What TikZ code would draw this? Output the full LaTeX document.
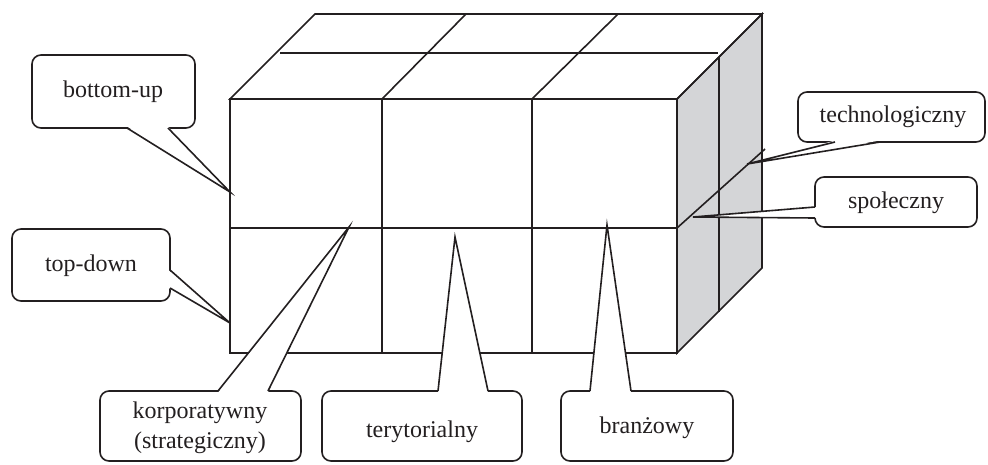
\documentclass[tikz,border=0pt]{standalone}
\usepackage{fontspec}
\setmainfont{Liberation Serif}
\usetikzlibrary{calc}
\definecolor{facegray}{RGB}{212,213,215}
\definecolor{ink}{RGB}{35,31,32}
\tikzset{
  edge/.style={draw=ink, line width=1.6pt, line join=miter},
  callout/.style={draw=ink, fill=white, line width=1.6pt, rounded corners=9pt},
  lbl/.style={text=ink, font=\fontsize{24}{30}\selectfont, align=center, inner sep=0pt}
}
% #1,#2 box corners; #3 base point 1; #4 tip; #5 base point 2; #6 inward shift
\newcommand\mycallout[6]{%
  \draw[callout] #1 rectangle #2;
  \fill[white] ($#3+#6$) -- #4 -- ($#5+#6$) -- cycle;
  \draw[edge] #3 -- #4 -- #5;
}
\begin{document}
\begin{tikzpicture}[x=1pt,y=-1pt]
\useasboundingbox (0,0) rectangle (988,464);
% cube
\filldraw[edge, fill=facegray] (677,99) -- (762,14) -- (762,268) -- (677,353) -- cycle;
\draw[edge] (230,99) -- (315,14) -- (762,14) -- (677,99) -- cycle;
\draw[edge] (382,99) -- (466,14);
\draw[edge] (532,99) -- (618,14);
\draw[edge] (280,53) -- (718,53);
\draw[edge] (719,57) -- (719,312);
\draw[edge] (677,228) -- (765,149);
\draw[edge] (230,99) rectangle (677,353);
\draw[edge] (230,228) -- (677,228);
\draw[edge] (382,99) -- (382,353);
\draw[edge] (532,99) -- (532,353);
% callouts
\mycallout{(32,55)}{(195,128)}{(127,128)}{(230,192)}{(168,128)}{(0,-1.5)}
\node[lbl] (bu) at (113,92) {bottom-up};
\mycallout{(12,229)}{(170,301)}{(170,270)}{(230,323)}{(170,288)}{(-1.5,0)}
\node[lbl] (td) at (91,266) {top-down};
\mycallout{(100,391)}{(301,461)}{(218,391)}{(349,227)}{(268,391)}{(0,1.5)}
\node[lbl] (kor) at (200,428) {korporatywny\\(strategiczny)};
\mycallout{(322,391)}{(522,461)}{(438,391)}{(455,237)}{(488,391)}{(0,1.5)}
\node[lbl] (ter) at (422,432) {terytorialny};
\mycallout{(561,391)}{(733,461)}{(590,391)}{(607,225)}{(631,391)}{(0,1.5)}
\node[lbl] (bra) at (647,428) {branżowy};
\mycallout{(798,92)}{(985,142)}{(835,142)}{(747,164)}{(880,142)}{(0,-1.5)}
\node[lbl] (tech) at (893,117) {technologiczny};
\mycallout{(815,177)}{(977,227)}{(815,207)}{(693,217)}{(815,218)}{(1.5,0)}
\node[lbl] (spo) at (896,203) {społeczny};
\end{tikzpicture}
\end{document}
